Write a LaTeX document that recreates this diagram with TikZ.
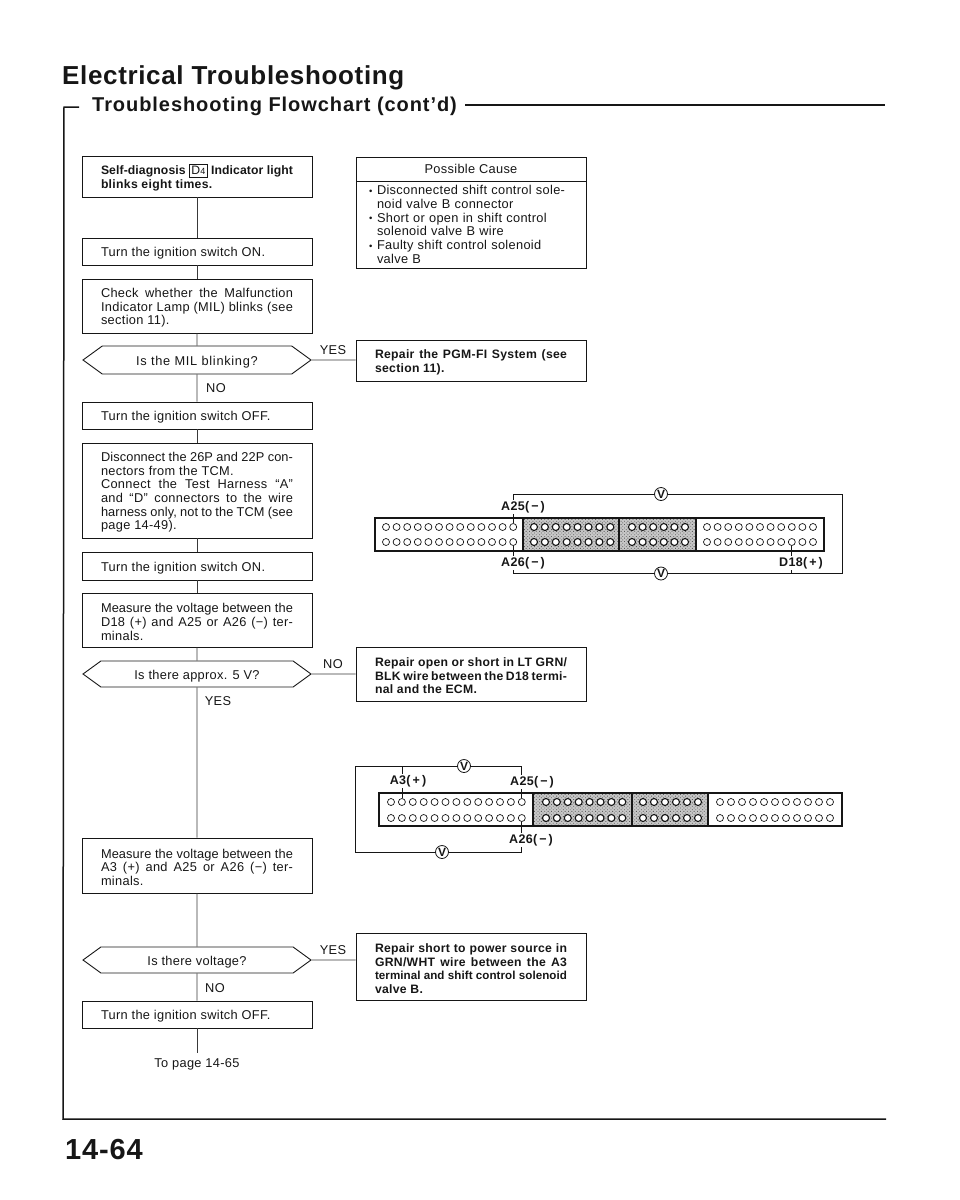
\documentclass[tikz,border=0pt]{standalone}
\usepackage{fontspec}
\setmainfont{Liberation Sans}[LetterSpace=2.5]
\setsansfont{Liberation Sans}[LetterSpace=2.5]
\usetikzlibrary{shapes.symbols,patterns.meta}
\definecolor{ink}{HTML}{161616}
\definecolor{stipple}{HTML}{9A9A9A}
\newcommand{\bodyfont}{\fontsize{12.8}{13.7}\selectfont\hyphenpenalty=10000 }
\newcommand{\boldfont}{\fontsize{12.2}{13.5}\selectfont\hyphenpenalty=10000 \bfseries}
\newcommand{\lblfont}{\fontsize{12.5}{13}\selectfont\bfseries}
\newcommand{\bul}{\makebox[8pt][l]{\raisebox{.5pt}{\fontsize{9.5}{9.5}\selectfont\textbullet}}}
\newcommand{\tight}[1]{{\addfontfeature{LetterSpace=.8}#1}}
\newcommand{\tighter}[1]{\makebox[192pt][s]{\fontsize{11.6}{13.5}\selectfont\addfontfeature{LetterSpace=.5}#1}}
\newcommand{\wide}[1]{{\addfontfeature{LetterSpace=5.5}#1}}
\tikzset{
  stepbox/.style={draw=ink,line width=.9pt,text width=192pt,inner xsep=19pt,inner ysep=0pt,align=justify,font=\bodyfont,execute at begin node={\leavevmode\rule{0pt}{13pt}}},
  boldbox/.style={stepbox,font=\boldfont},
  causebox/.style={draw=ink,line width=.9pt,text width=204pt,inner xsep=13pt,inner ysep=0pt,align=left,font=\bodyfont},
  askbox/.style={draw=ink,line width=.9pt,signal,signal to=east and west,signal pointer angle=72,minimum width=228pt,inner sep=0pt,font=\bodyfont,execute at begin node={\rule{0pt}{13pt}}},
  answer/.style={font=\bodyfont},
  stem/.style={draw=ink!85,line width=.9pt},
  pin/.style={circle,draw=ink,fill=white,line width=.7pt,minimum size=7pt,inner sep=0pt},
  hotpin/.style={pin,line width=1.1pt},
  lbl/.style={font=\lblfont,inner sep=1pt},
  meter/.style={circle,draw=ink,fill=white,line width=.8pt,minimum size=13pt,inner sep=0pt,font=\fontsize{12}{12}\selectfont\bfseries},
  wire/.style={draw=ink,line width=.8pt},
  shell/.style={draw=ink,line width=1.5pt},
  dots/.style={fill=stipple!55,postaction={pattern={Dots[distance=2.4pt,radius=.6pt,angle=45]},pattern color=ink!70}}
}
\begin{document}
\begin{tikzpicture}[x=1pt,y=-1pt,font=\sffamily,text=ink]
  \useasboundingbox (0,0) rectangle (960,1200);
  \node[anchor=west,inner sep=0pt,font=\fontsize{26}{26}\selectfont\bfseries\addfontfeature{LetterSpace=2.5}] (mainTitle) at (62,78) {Electrical Troubleshooting};
  \node[anchor=west,inner sep=0pt,font=\fontsize{20}{20}\selectfont\bfseries\addfontfeature{LetterSpace=4.7}] (subTitle) at (92,106) {Troubleshooting Flowchart (cont'd)};
  \node[anchor=west,inner sep=0pt,font=\fontsize{29}{29}\selectfont\bfseries\addfontfeature{LetterSpace=3}] (pageNo) at (65,1150) {14-64};
  \draw[shell] (79,107) -- (64,107) -- (63,1119) -- (886,1119);
  \draw[shell,line width=1.2pt] (465,105) -- (885,105);

  \node[boldbox,minimum height=41pt] (selfBox) at (197,176.5) {\tight{Self-diagnosis {\setlength{\fboxsep}{1.6pt}\setlength{\fboxrule}{.7pt}\fbox{\mdseries D\fontsize{9}{9}\selectfont 4}} Indicator light}\linebreak blinks eight times.};
  \node[stepbox,minimum height=27pt] (turnOn) at (197,251.5) {Turn the ignition switch ON.};
  \node[stepbox,minimum height=54pt] (checkMil) at (197,306) {Check whether the Malfunction\linebreak Indicator Lamp (MIL) blinks (see\linebreak section 11).};
  \node[askbox,minimum height=28pt] (isMil) at (197,360) {\wide{Is the MIL blinking?}};
  \node[stepbox,minimum height=27pt] (turnOff) at (197,415.5) {Turn the ignition switch OFF.};
  \node[stepbox,minimum height=95pt] (discon) at (197,490.5) {\tight{Disconnect the 26P and 22P con-}\linebreak nectors from the TCM.\\ Connect the Test Harness ``A''\linebreak and ``D'' connectors to the wire\linebreak \tight{harness only, not to the TCM (see}\linebreak page 14-49).};
  \node[stepbox,minimum height=28pt] (turnOnB) at (197,566) {Turn the ignition switch ON.};
  \node[stepbox,minimum height=54pt] (measD) at (197,620) {\tight{Measure the voltage between the}\linebreak D18 (+) and A25 or A26 (−) ter-\linebreak minals.};
  \node[askbox,minimum height=26pt] (is5v) at (197,674) {Is there approx. 5 V?};
  \node[stepbox,minimum height=55pt] (measA) at (197,865.5) {\tight{Measure the voltage between the}\linebreak A3 (+) and A25 or A26 (−) ter-\linebreak minals.};
  \node[askbox,minimum height=26pt] (isVolt) at (197,960) {Is there voltage?};
  \node[stepbox,minimum height=27pt] (turnOffB) at (197,1014.5) {Turn the ignition switch OFF.};
  \node[font=\bodyfont,inner sep=0pt,minimum height=10pt,outer ysep=5pt] (toPage) at (197,1064) {To page 14-65};

  \foreach \a/\b in {selfBox/turnOn,turnOn/checkMil,checkMil/isMil,isMil/turnOff,turnOff/discon,discon/turnOnB,turnOnB/measD,measD/is5v,is5v/measA,measA/isVolt,isVolt/turnOffB,turnOffB/toPage}{
    \draw[stem] (\a) -- (\b);
  }
  \node[answer] at (216,388) {NO};
  \node[answer] at (218,701) {YES};
  \node[answer] at (215,988) {NO};

  \node[draw=ink,line width=.9pt,minimum width=230pt,minimum height=24pt,inner sep=0pt,font=\bodyfont] (causeHead) at (471,169) {Possible Cause};
  \node[causebox,minimum height=87pt] (causeBody) at (471,224.5) {\bul Disconnected shift control sole-\\ \hspace*{8pt}noid valve B connector\\ \bul Short or open in shift control\\ \hspace*{8pt}solenoid valve B wire\\ \bul Faulty shift control solenoid\\ \hspace*{8pt}valve B};
  \node[boldbox,minimum height=41pt] (fixPgm) at (471,360.5) {Repair the PGM-FI System (see\linebreak section 11).};
  \node[boldbox,minimum height=54pt] (fixOpen) at (471,674) {Repair open or short in LT GRN/\linebreak BLK wire between the D18 termi-\linebreak nal and the ECM.};
  \node[boldbox,minimum height=67pt] (fixShort) at (471,966.5) {Repair short to power source in\linebreak GRN/WHT wire between the A3\linebreak \tighter{terminal and shift control solenoid}\linebreak valve B.};
  \draw[stem] (isMil) -- (isMil -| fixPgm.west);
  \draw[stem] (is5v) -- (is5v -| fixOpen.west);
  \draw[stem] (isVolt) -- (isVolt -| fixShort.west);
  \node[answer] at (333,350) {YES};
  \node[answer] at (333,664) {NO};
  \node[answer] at (333,950) {YES};

  \draw[dots] (523,518) rectangle (696,551);
  \draw[shell] (375,518) rectangle (824,551);
  \foreach \x in {523,619,696}{
    \draw[shell] (\x,518) -- (\x,551);
  }
  \foreach \nm/\xs/\dx/\n/\st in {a/386/10.6/13/pin,b/534/10.9/8/hotpin,c/632/10.6/6/hotpin,d/707/10.6/11/pin}{
    \foreach \r/\yy in {t/527,u/542}{
      \foreach \i in {1,...,\n}{
        \node[\st] (\nm\r\i) at ({\xs+(\i-1)*\dx},\yy) {};
      }
    }
  }
  \node[lbl] (labA25) at (523,507) {A25(\,−\,)};
  \node[lbl] (labA26) at (523,563) {A26(\,−\,)};
  \node[lbl] (labD18) at (801,563) {D18(\,+\,)};
  \node[meter] (vTop) at (661,494) {V};
  \node[meter] (vBot) at (661,573.5) {V};
  \coordinate (cnrRT) at (842,494);
  \coordinate (cnrRB) at (842,573.5);
  \draw[wire] (at13) -- (at13 |- labA25.south);
  \draw[wire] (at13 |- labA25.north) -- (at13 |- vTop) -- (vTop);
  \draw[wire] (vTop) -- (cnrRT) -- (cnrRB) -- (du9 |- cnrRB);
  \draw[wire] (au13) -- (au13 |- labA26.north);
  \draw[wire] (au13 |- labA26.south) -- (au13 |- vBot) -- (vBot);
  \draw[wire] (vBot) -- (du9 |- vBot) -- (du9 |- labD18.south);
  \draw[wire] (du9 |- labD18.north) -- (du9);

  \draw[dots] (533,793) rectangle (708,826);
  \draw[shell] (379,793) rectangle (842,826);
  \foreach \x in {533,632,708}{
    \draw[shell] (\x,793) -- (\x,826);
  }
  \foreach \nm/\xs/\dx/\n/\st in {e/391/10.9/13/pin,f/546/10.9/8/hotpin,g/643/11/6/hotpin,h/720/11/11/pin}{
    \foreach \r/\yy in {t/802,u/818}{
      \foreach \i in {1,...,\n}{
        \node[\st] (\nm\r\i) at ({\xs+(\i-1)*\dx},\yy) {};
      }
    }
  }
  \node[lbl] (labA3) at (408,781) {A3(\,+\,)};
  \node[lbl] (labB25) at (532,782) {A25(\,−\,)};
  \node[lbl] (labB26) at (531,840) {A26(\,−\,)};
  \node[meter] (vUp) at (464,766) {V};
  \node[meter] (vLow) at (442,852) {V};
  \coordinate (cnrLT) at (355,766);
  \coordinate (cnrLB) at (355,852);
  \draw[wire] (et2) -- (et2 |- labA3.south);
  \draw[wire] (et2 |- labA3.north) -- (et2 |- vUp);
  \draw[wire] (et13) -- (et13 |- labB25.south);
  \draw[wire] (et13 |- labB25.north) -- (et13 |- vUp) -- (vUp);
  \draw[wire] (vUp) -- (cnrLT) -- (cnrLB) -- (vLow);
  \draw[wire] (vLow) -- (eu13 |- vLow) -- (eu13 |- labB26.south);
  \draw[wire] (eu13 |- labB26.north) -- (eu13);
\end{tikzpicture}
\end{document}
